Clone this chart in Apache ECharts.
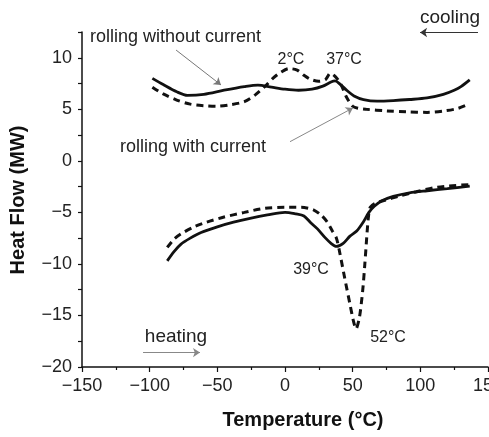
<!DOCTYPE html>
<html>
<head>
<meta charset="utf-8">
<script src="https://cdn.jsdelivr.net/npm/echarts@6/dist/echarts.min.js"></script>
<style>html,body{margin:0;padding:0;background:#fff;}#c{width:489px;height:437px;}</style>
</head>
<body>
<div id="c"></div>
<script>
// Cooling curves (upper)
var coolNoCurrent = [[-98,8.0],[-90,7.4],[-80,6.7],[-72,6.35],[-60,6.45],[-45,6.85],[-30,7.2],[-20,7.35],[-10,7.15],[0,6.95],[10,6.85],[20,6.95],[28,7.25],[34,7.65],[37,7.75],[41,7.4],[46,6.8],[51,6.3],[58,5.95],[68,5.8],[80,5.85],[92,5.95],[105,6.1],[117,6.45],[125,6.85],[130,7.2],[136.5,7.85]];
var coolWithCurrent = [[-98,7.15],[-90,6.5],[-80,5.9],[-70,5.5],[-60,5.35],[-50,5.3],[-40,5.45],[-30,5.75],[-22,6.4],[-15,7.2],[-9,8.0],[-3,8.6],[3,8.95],[9,8.8],[14,8.3],[19,7.9],[25,7.72],[30,7.9],[33.5,8.5],[37,8.2],[41,7.5],[45.6,6.15],[50,5.3],[54,5.1],[60,5.0],[75,4.85],[90,4.75],[105,4.7],[118,4.85],[128,5.1],[136.5,5.55]];
// Heating curves (lower)
var heatNoCurrent = [[-87,-9.7],[-82,-8.8],[-77,-8.1],[-70,-7.5],[-62,-6.95],[-50,-6.4],[-38,-5.95],[-25,-5.55],[-13,-5.25],[0,-5.0],[8,-5.15],[14,-5.35],[19,-6.0],[24,-6.6],[30,-7.5],[34,-8.0],[38,-8.3],[43,-8.0],[48,-7.3],[53,-6.8],[58,-5.9],[62,-5.0],[66,-4.4],[72,-3.85],[80,-3.45],[92,-3.1],[105,-2.9],[120,-2.7],[136.5,-2.45]];
var heatWithCurrent = [[-87,-8.4],[-82,-7.6],[-77,-7.1],[-68,-6.45],[-58,-5.95],[-45,-5.45],[-30,-5.0],[-15,-4.6],[0,-4.5],[12,-4.5],[21,-4.75],[27,-5.3],[31,-5.9],[35,-6.8],[38,-7.5],[40,-8.6],[44,-11.3],[48,-13.9],[50.5,-15.5],[52.5,-16.3],[55,-15.2],[57.4,-12.6],[59,-10],[60.4,-7.4],[61.6,-5.5],[63,-4.5],[67,-4.1],[73,-3.85],[85,-3.4],[97,-3.0],[110,-2.6],[120,-2.45],[136.5,-2.3]];
// Annotation arrows (data coordinates): [from, to]
var arrowNoCurrent = [[-80.5,10.75],[-47.3,7.36]];
var arrowWithCurrent = [[3.7,1.86],[50.2,5.13]];
var arrowCooling = [[142.6,12.45],[99.8,12.45]];
var arrowHeating = [[-104.9,-18.6],[-62.8,-18.6]];
// Axis ranges
var xRange = [-150,150];
var yRange = [-20,12.5];

var chart = echarts.init(document.getElementById('c'), null, {renderer:'canvas'});
var FONT = '"Liberation Sans", Arial, sans-serif';
function minus(v){ return String(v).replace('-', '\u2212'); }
function arrow(pair, color){
  return [{coord: pair[0], lineStyle:{color:color}}, {coord: pair[1]}];
}
chart.setOption({
  animation: false,
  backgroundColor: '#fff',
  grid: {left: 82, right: 1, top: 32, bottom: 70, containLabel: false, outerBoundsMode: 'none'},
  xAxis: {
    type: 'value', min: xRange[0], max: xRange[1], interval: 50,
    axisLine: {show: true, onZero: false, lineStyle: {color: '#111', width: 1.5}},
    axisTick: {show: true, length: 5, lineStyle: {color: '#111', width: 1.2}},
    minorTick: {show: true, splitNumber: 2, length: 3, lineStyle: {color: '#111', width: 1.2}},
    splitLine: {show: false},
    axisLabel: {color: '#222', fontSize: 18, fontFamily: FONT, margin: 10, formatter: minus, hideOverlap: false}
  },
  yAxis: {
    type: 'value', min: yRange[0], max: yRange[1], interval: 2.5,
    axisLine: {show: true, onZero: false, lineStyle: {color: '#111', width: 1.5}},
    axisTick: {show: true, length: 4, lineStyle: {color: '#111', width: 1.2}},
    splitLine: {show: false},
    axisLabel: {color: '#222', fontSize: 18, fontFamily: FONT, margin: 10,
      formatter: function(v){ return (v % 5 === 0) ? minus(v) : ''; }}
  },
  series: [
    {type:'line', data: coolNoCurrent, symbol:'none', smooth:0.3, lineStyle:{color:'#111', width:2.8},
     markLine: {silent:true, symbol:['none','arrow'], symbolSize:7, label:{show:false},
       lineStyle:{type:'solid', width:1, color:'#777'},
       data: [arrow(arrowNoCurrent,'#777'), arrow(arrowWithCurrent,'#888'), arrow(arrowCooling,'#333'), arrow(arrowHeating,'#888')]}},
    {type:'line', data: coolWithCurrent, symbol:'none', smooth:0.3, lineStyle:{color:'#111', width:3, type:[7,5]}},
    {type:'line', data: heatNoCurrent, symbol:'none', smooth:0.3, lineStyle:{color:'#111', width:2.8}},
    {type:'line', data: heatWithCurrent, symbol:'none', smooth:0.25, lineStyle:{color:'#111', width:3, type:[7,5]}}
  ],
  graphic: [
    {type:'text', x:90, y:37, style:{text:'rolling without current', font:'18px '+FONT, fill:'#222', textAlign:'left', textVerticalAlign:'middle'}},
    {type:'text', x:120, y:147, style:{text:'rolling with current', font:'18px '+FONT, fill:'#222', textAlign:'left', textVerticalAlign:'middle'}},
    {type:'text', x:291, y:60, style:{text:'2\u00B0C', font:'16px '+FONT, fill:'#222', textAlign:'center', textVerticalAlign:'middle'}},
    {type:'text', x:344, y:60, style:{text:'37\u00B0C', font:'16px '+FONT, fill:'#222', textAlign:'center', textVerticalAlign:'middle'}},
    {type:'text', x:311, y:270, style:{text:'39\u00B0C', font:'16px '+FONT, fill:'#222', textAlign:'center', textVerticalAlign:'middle'}},
    {type:'text', x:388, y:338, style:{text:'52\u00B0C', font:'16px '+FONT, fill:'#222', textAlign:'center', textVerticalAlign:'middle'}},
    {type:'text', x:450, y:18, style:{text:'cooling', font:'19px '+FONT, fill:'#222', textAlign:'center', textVerticalAlign:'middle'}},
    {type:'text', x:176, y:337, style:{text:'heating', font:'19px '+FONT, fill:'#222', textAlign:'center', textVerticalAlign:'middle'}},
    {type:'text', x:303, y:420, style:{text:'Temperature (\u00B0C)', font:'bold 20px '+FONT, fill:'#111', textAlign:'center', textVerticalAlign:'middle'}},
    {type:'text', x:18, y:200, rotation:Math.PI/2, style:{text:'Heat Flow (MW)', font:'bold 20px '+FONT, fill:'#111', textAlign:'center', textVerticalAlign:'middle'}}
  ]
});
</script>
</body>
</html>
